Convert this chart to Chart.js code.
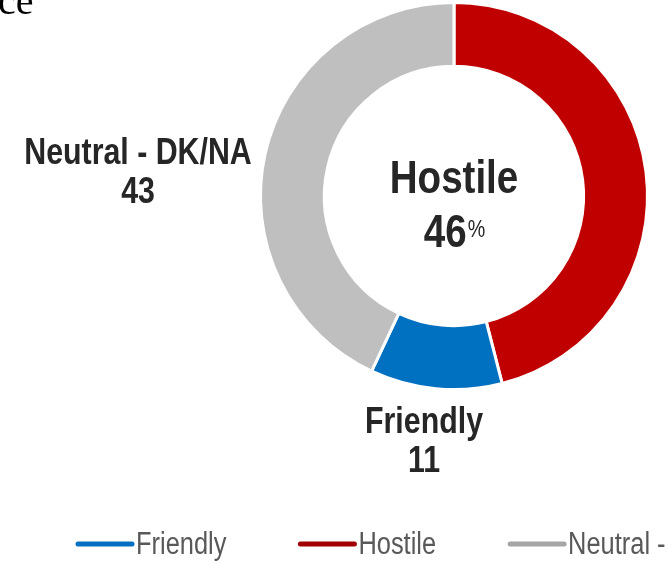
<!DOCTYPE html>
<html>
<head>
<meta charset="utf-8">
<script src="https://cdn.jsdelivr.net/npm/chart.js@4/dist/chart.umd.min.js"></script>
<style>
  html, body { margin: 0; padding: 0; background: #fff; }
</style>
</head>
<body>
<canvas id="donut" width="667" height="562"></canvas>
<script>
// slices in drawing order (clockwise from the top)
const categories = ['Hostile', 'Friendly', 'Neutral - DK/NA'];
const values = [46, 11, 43];
const sliceColors = ['#C00000', '#0070C0', '#BFBFBF'];

// legend order and colours
const legendOrder = ['Friendly', 'Hostile', 'Neutral - DK/NA'];
const legendColors = ['#0070C0', '#A00000', '#A6A6A6'];

const FAMILY = "'Liberation Sans Narrow', 'Arial Narrow', 'Liberation Sans', Arial, sans-serif";
const SQUEEZE = 0.82; // narrow look for the regular sans

// outside labels: name on one line, value under it
const outsideLabels = {
  'Neutral - DK/NA': { x: 138, y: 154 },
  'Friendly': { x: 424, y: 423 }
};

// draws text squeezed horizontally; returns drawn width
function narrowText(ctx, text, x, y, align) {
  const w = ctx.measureText(text).width * SQUEEZE;
  let left = x;
  if (align === 'center') left = x - w / 2;
  else if (align === 'right') left = x - w;
  ctx.save();
  ctx.translate(left, y);
  ctx.scale(SQUEEZE, 1);
  ctx.textAlign = 'left';
  ctx.fillText(text, 0, 0);
  ctx.restore();
  return w;
}

const textPlugin = {
  id: 'donutText',
  afterDraw(chart) {
    const ctx = chart.ctx;
    const arc = chart.getDatasetMeta(0).data[0];
    const cx = arc.x, cy = arc.y;
    const total = values.reduce((a, b) => a + b, 0);

    ctx.save();

    // cut-off heading at the top left
    ctx.fillStyle = '#000';
    ctx.font = "40px 'Liberation Serif', serif";
    ctx.textBaseline = 'alphabetic';
    ctx.fillText('ce', -2, 14);
    ctx.textBaseline = 'middle';

    ctx.fillStyle = '#262626';

    // centre: biggest slice
    const big = values.indexOf(Math.max(...values));
    const pct = Math.round(values[big] / total * 100) + '';
    ctx.font = 'bold 47px ' + FAMILY;
    narrowText(ctx, categories[big], cx, cy - 16, 'center');
    const numW = ctx.measureText(pct).width * SQUEEZE;
    ctx.font = '24px ' + FAMILY;
    const pctW = ctx.measureText('%').width * SQUEEZE;
    const startX = cx - (numW + pctW) / 2;
    narrowText(ctx, '%', startX + numW + 1, cy + 34, 'left');
    ctx.font = 'bold 47px ' + FAMILY;
    narrowText(ctx, pct, startX, cy + 38, 'left');

    // outside labels
    ctx.font = 'bold 37px ' + FAMILY;
    categories.forEach((name, i) => {
      const pos = outsideLabels[name];
      if (!pos) return;
      narrowText(ctx, name, pos.x, pos.y, 'center');
      narrowText(ctx, String(values[i]), pos.x, pos.y + 39, 'center');
    });

    // legend along the bottom, runs off the right edge
    ctx.font = '31px ' + FAMILY;
    ctx.fillStyle = '#595959';
    ctx.lineCap = 'round';
    ctx.lineWidth = 5;
    let x = 76;
    const ly = 544;
    legendOrder.forEach((name, i) => {
      ctx.strokeStyle = legendColors[i];
      ctx.beginPath();
      ctx.moveTo(x + 2, ly);
      ctx.lineTo(x + 56, ly);
      ctx.stroke();
      const w = narrowText(ctx, name, x + 60, ly + 1, 'left');
      x += 60 + w + 72;
    });
    ctx.restore();
  }
};

new Chart(document.getElementById('donut'), {
  type: 'doughnut',
  data: {
    labels: categories,
    datasets: [{
      data: values,
      backgroundColor: sliceColors,
      borderColor: '#ffffff',
      borderWidth: 3
    }]
  },
  options: {
    responsive: false,
    animation: false,
    cutout: '67%',
    layout: { padding: { left: 259, right: 18, top: 1, bottom: 171 } },
    plugins: { legend: { display: false }, tooltip: { enabled: false } }
  },
  plugins: [textPlugin]
});
</script>
</body>
</html>
